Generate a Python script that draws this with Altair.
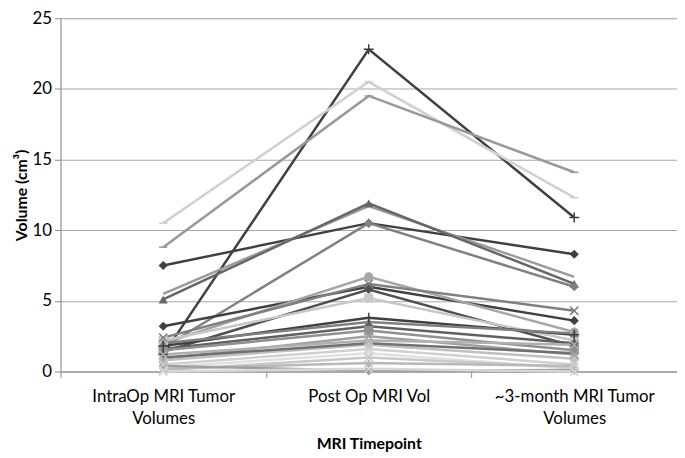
import altair as alt
import pandas as pd

timepoints = ["IntraOp MRI Tumor|Volumes", "Post Op MRI Vol", "~3-month MRI Tumor|Volumes"]

series = [f"P{i+1}" for i in range(26)]
intraop = [1.2, 10.5, 8.8, 7.5, 5.5, 5.1, 1.7, 3.2, 2.0, 1.4, 2.2, 2.4, 1.8, 2.0, 1.6, 1.5, 0.9, 1.2, 0.8, 0.5, 0.3, 0.1, 0.2, 0.4, 1.0, 0.0]
postop = [22.8, 20.5, 19.5, 10.5, 11.7, 11.9, 10.5, 6.0, 6.7, 5.8, 5.2, 6.2, 3.8, 3.5, 3.2, 2.9, 2.5, 2.2, 1.9, 1.6, 1.3, 1.0, 0.6, 0.05, 2.0, 0.2]
month3 = [10.9, 12.3, 14.1, 8.3, 6.7, 6.2, 6.0, 3.6, 2.8, 1.8, 2.2, 4.3, 2.6, 2.7, 2.0, 1.5, 1.2, 1.9, 0.9, 0.5, 0.2, 0.3, 0.4, 0.1, 1.3, 0.0]
colors = ["#404040", "#d0d0d0", "#999999", "#404040", "#9a9a9a", "#666666", "#808080", "#404040",
          "#a6a6a6", "#505050", "#c8c8c8", "#808080", "#404040", "#808080", "#606060", "#909090",
          "#a0a0a0", "#b0b0b0", "#c0c0c0", "#d0d0d0", "#e0e0e0", "#c8c8c8", "#b8b8b8", "#a0a0a0",
          "#707070", "#d8d8d8"]
markers = ["plus", "dash", "dash", "diamond", "none", "triangle", "diamond", "diamond",
           "circle", "diamond", "square", "x", "plus", "triangle", "diamond", "square",
           "x", "x", "circle", "x", "circle", "x", "triangle", "diamond", "none", "x"]

rows = []
for i, s in enumerate(series):
    for t, v in zip(timepoints, [intraop[i], postop[i], month3[i]]):
        rows.append({"series": s, "timepoint": t, "volume": v, "marker": markers[i]})
df = pd.DataFrame(rows)

shape_paths = {
    "diamond": "diamond",
    "triangle": "triangle-up",
    "circle": "circle",
    "square": "square",
    "x": "M-1,-1L1,1M-1,1L1,-1",
    "plus": "M0,-1.2V1.2M-1.2,0H1.2",
    "dash": "M-1,0H1",
    "none": "circle",
}
shape_dom = list(shape_paths.keys())
shape_rng = [shape_paths[k] for k in shape_dom]

FONT = "Lato"

x_enc = alt.X("timepoint:N", sort=timepoints, bandPosition=0.5,
              scale=alt.Scale(type="band", paddingInner=0, paddingOuter=0),
              axis=alt.Axis(title="MRI Timepoint", labelExpr="split(datum.label, '|')",
                            labelAngle=0, tickBand="extent", labelPadding=11,
                            labelFontSize=17, titleFontSize=16, titleFontWeight="bold",
                            labelFont=FONT, titleFont=FONT, labelColor="#000000",
                            titleColor="#000000", domainColor="#8c8c8c", tickColor="#8c8c8c",
                            tickSize=6, titlePadding=9, labelLineHeight=23))
y_enc = alt.Y("volume:Q", scale=alt.Scale(domain=[0, 25], nice=False),
              axis=alt.Axis(title="Volume (cm³)", values=[0, 5, 10, 15, 20, 25],
                            labelFontSize=17, titleFontSize=16, titleFontWeight="bold",
                            labelFont=FONT, titleFont=FONT, labelColor="#000000",
                            titleColor="#000000", domainColor="#8c8c8c", tickColor="#8c8c8c",
                            gridColor="#a6a6a6", tickSize=6, labelPadding=3, titlePadding=3))
color_enc = alt.Color("series:N", scale=alt.Scale(domain=series, range=colors), legend=None)

base = alt.Chart(df)
lines = base.mark_line(strokeWidth=2.5).encode(x=x_enc, y=y_enc, color=color_enc, detail="series:N")

filled = base.transform_filter(
    alt.FieldOneOfPredicate(field="marker", oneOf=["diamond", "triangle", "circle", "square"])
).mark_point(filled=True, opacity=1, size=85).encode(
    x=x_enc, y=y_enc, color=color_enc,
    shape=alt.Shape("marker:N", scale=alt.Scale(domain=shape_dom, range=shape_rng), legend=None))

stroked = base.transform_filter(
    alt.FieldOneOfPredicate(field="marker", oneOf=["x", "plus", "dash"])
).mark_point(filled=False, opacity=1, size=70, strokeWidth=1.5).encode(
    x=x_enc, y=y_enc, color=color_enc,
    shape=alt.Shape("marker:N", scale=alt.Scale(domain=shape_dom, range=shape_rng), legend=None))

chart = alt.layer(lines, filled, stroked).properties(
    width=623, height=357,
    autosize=alt.AutoSizeParams(type="none"),
    padding={"left": 53, "top": 8, "right": 0, "bottom": 80},
).configure_view(stroke=None).configure(background="white")

chart.save("out.html", embed_options={"renderer": "svg", "actions": False})
